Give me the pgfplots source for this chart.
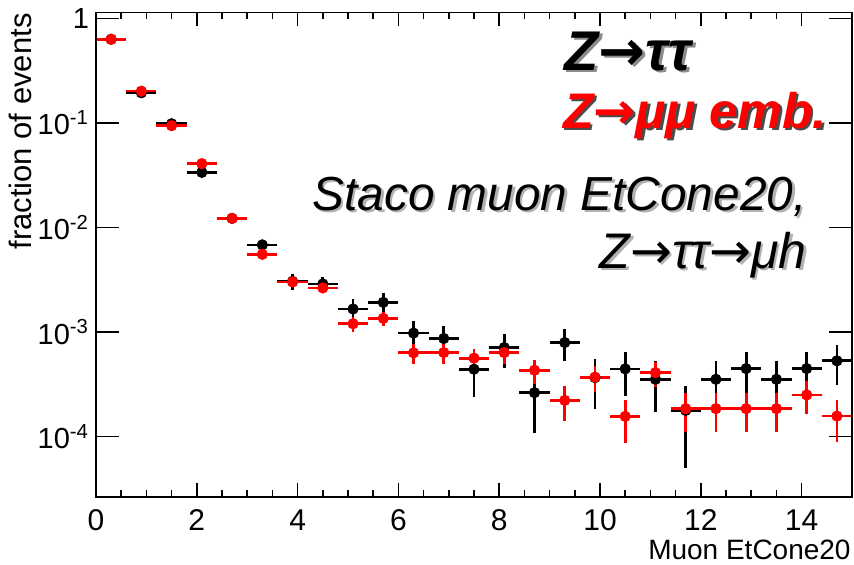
\documentclass[border=0pt]{standalone}
\usepackage{fontspec}
\setmainfont{Liberation Sans}
\newfontfamily\arrowfont{DejaVu Sans}
\newcommand{\arr}{{\arrowfont →}}
\usepackage{pgfplots}
\pgfplotsset{compat=1.18}
\usepackage{pgfplotstable}

% Z -> tau tau (black): bin centre, fraction, half bin width, stat. error
\pgfplotstableread{
x     y         ex   ey
0.3   0.63      0.3  0.0076
0.9   0.194     0.3  0.0042
1.5   0.098     0.3  0.0030
2.1   0.0336    0.3  0.00176
2.7   0.0122    0.3  0.00106
3.3   0.00681   0.3  0.00079
3.9   0.00305   0.3  0.00053
4.5   0.00288   0.3  0.00051
5.1   0.00166   0.3  0.00039
5.7   0.00192   0.3  0.00042
6.3   0.000976  0.3  0.000299
6.9   0.000867  0.3  0.000282
7.5   0.000441  0.3  0.000201
8.1   0.00071   0.3  0.000255
8.7   0.000263  0.3  0.000155
9.3   0.000793  0.3  0.00027
9.9   0.000366  0.3  0.000183
10.5  0.000444  0.3  0.000202
11.1  0.000353  0.3  0.00018
11.7  0.000178  0.3  0.000128
12.3  0.000353  0.3  0.00018
12.9  0.000447  0.3  0.000203
13.5  0.000353  0.3  0.00018
14.1  0.000447  0.3  0.000203
14.7  0.00053   0.3  0.00022
}\ztautau

% Z -> mu mu embedded (red)
\pgfplotstableread{
x     y         ex   ey
0.3   0.63      0.3  0.0044
0.9   0.201     0.3  0.0025
1.5   0.094     0.3  0.0017
2.1   0.0407    0.3  0.0011
2.7   0.0122    0.3  0.00061
3.3   0.00553   0.3  0.00041
3.9   0.00301   0.3  0.000302
4.5   0.00264   0.3  0.000283
5.1   0.0012    0.3  0.000191
5.7   0.00135   0.3  0.000202
6.3   0.000632  0.3  0.000138
6.9   0.000636  0.3  0.000139
7.5   0.000562  0.3  0.000131
8.1   0.000636  0.3  0.000139
8.7   0.000431  0.3  0.000114
9.3   0.000222  0.3  0.000082
9.9   0.000370  0.3  0.000106
10.5  0.000156  0.3  0.0000688
11.1  0.000409  0.3  0.000111
11.7  0.000185  0.3  0.0000749
12.3  0.000185  0.3  0.0000749
12.9  0.000185  0.3  0.0000749
13.5  0.000185  0.3  0.0000749
14.1  0.00025   0.3  0.000087
14.7  0.000157  0.3  0.000069
}\zmumu

\begin{document}
\begin{tikzpicture}[x=0.5pt, y=-0.5pt]
\useasboundingbox (0,0) rectangle (854,564);

% data and the logarithmic y axis
\begin{axis}[
  width=378pt, height=242.2pt, scale only axis,
  at={(48pt,-248.35pt)}, anchor=south west,
  xmin=0, xmax=15, ymin=2.66e-5, ymax=1.14,
  ymode=log,
  axis line style={line width=0.8pt},
  tick style={line width=0.75pt, black},
  tick align=inside,
  tick label style={font=\fontsize{14.5}{17}\selectfont},
  xtick=\empty,
  ytick={1,0.1,0.01,0.001,0.0001},
  yticklabels={1,10\textsuperscript{-1},10\textsuperscript{-2},10\textsuperscript{-3},10\textsuperscript{-4}},
  major tick length=11.5pt, minor tick length=6pt,
]
\addplot[only marks, mark=*, mark size=2.6pt, black,
  error bars/x dir=both, error bars/x explicit,
  error bars/y dir=both, error bars/y explicit,
  error bars/error mark=none,
  error bars/error bar style={line width=1.35pt, black}]
  table[x=x, y=y, x error=ex, y error=ey] {\ztautau};
\addplot[only marks, mark=*, mark size=2.6pt, red,
  error bars/x dir=both, error bars/x explicit,
  error bars/y dir=both, error bars/y explicit,
  error bars/error mark=none,
  error bars/error bar style={line width=1.35pt, red}]
  table[x=x, y=y, x error=ex, y error=ey] {\zmumu};
\end{axis}

% x axis ticks (shorter than the y ones)
\begin{axis}[
  width=378pt, height=242.2pt, scale only axis,
  at={(48pt,-248.35pt)}, anchor=south west,
  xmin=0, xmax=15, ymin=2.66e-5, ymax=1.14,
  ymode=log,
  axis line style={line width=0.8pt},
  tick style={line width=0.75pt, black},
  tick align=inside,
  tick label style={font=\fontsize{15}{18}\selectfont},
  ytick=\empty, minor ytick={},
  xtick={0,2,4,6,8,10,12,14},
  xticklabels={0,2,4,6,8,10,12,14},
  minor x tick num=3,
  major tick length=7pt, minor tick length=3.5pt,
  xticklabel style={yshift=-3pt},
]
\end{axis}

% axis titles
\begin{scope}[every node/.style={inner sep=0pt}]
\node[anchor=base east, font=\fontsize{14}{17}\selectfont] at (851,559) {Muon EtCone20};
\node[anchor=base east, rotate=90, font=\fontsize{15.5}{18}\selectfont] at (32,13) {fraction of events};

% process labels with drop shadows
\node[anchor=base east, font=\fontsize{28}{32}\selectfont\bfseries\itshape, text=black!45] at (694.5,72.5) {Z\arr ττ};
\node[anchor=base east, font=\fontsize{28}{32}\selectfont\bfseries\itshape, text=black] at (692,70) {Z\arr ττ};

\node[anchor=base east, font=\fontsize{25}{30}\selectfont\bfseries\itshape, text=black!70] at (829.5,130.5) {Z\arr μμ emb.};
\node[anchor=base east, font=\fontsize{25}{30}\selectfont\bfseries\itshape, text=red] at (827,128) {Z\arr μμ emb.};

\node[anchor=base east, font=\fontsize{23.9}{28}\selectfont\itshape, text=black!30] at (809.5,212.5) {Staco muon EtCone20,};
\node[anchor=base east, font=\fontsize{23.9}{28}\selectfont\itshape, text=black] at (807,210) {Staco muon EtCone20,};

\node[anchor=base east, font=\fontsize{25}{30}\selectfont\itshape, text=black!30] at (809.5,270.5) {Z\arr ττ\arr μh};
\node[anchor=base east, font=\fontsize{25}{30}\selectfont\itshape, text=black] at (807,268) {Z\arr ττ\arr μh};
\end{scope}
\end{tikzpicture}
\end{document}
